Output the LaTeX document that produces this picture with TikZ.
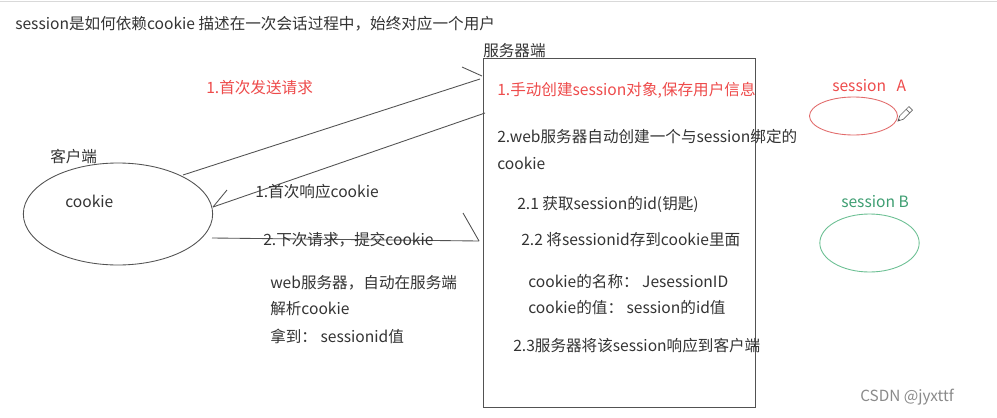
\documentclass[tikz,border=0pt]{standalone}
\usepackage{fontspec}
\setmainfont{Noto Sans CJK SC}
\usetikzlibrary{shapes.geometric}
\definecolor{ink}{HTML}{333333}
\definecolor{lred}{HTML}{EE4B4B}
\definecolor{ered}{HTML}{E26A6A}
\definecolor{lgreen}{HTML}{3E9E72}
\definecolor{egreen}{HTML}{6ABF92}
\definecolor{wm}{HTML}{8A8A8A}
\tikzset{
  txt/.style={anchor=west, inner sep=0pt, text=ink, font=\fontsize{11.7}{14}\selectfont},
  redtxt/.style={txt, text=lred},
  conn/.style={draw=ink!85, line width=0.65pt},
}
\begin{document}
\begin{tikzpicture}[x=0.75pt,y=-0.75pt]
\useasboundingbox (0,0) rectangle (997,418);
\fill[white] (0,0) rectangle (997,418);
\draw[black!15, line width=0.6pt] (0,1.5) -- (997,1.5);

% title
\node[txt] (title) at (15,24) {session是如何依赖cookie 描述在一次会话过程中，始终对应一个用户};

% client
\node[draw=ink!85, line width=0.65pt, ellipse, minimum width=142pt, minimum height=76.5pt, inner sep=0] (client) at (118,214) {};
\node[txt] (clientlbl) at (50,157) {客户端};
\node[txt] (cookie) at (65,201) {cookie};

% server box
\node[draw=ink!85, line width=0.65pt, rectangle, minimum width=204pt, minimum height=261.75pt, inner sep=0, anchor=north west] (server) at (483,58) {};
\node[txt] (serverlbl) at (483,51) {服务器端};

% server texts
\node[redtxt] (s1) at (497,90) {1.手动创建session对象,保存用户信息};
\node[txt] (s2) at (497,137) {2.web服务器自动创建一个与session绑定的};
\node[txt] (s2b) at (497,163) {cookie};
\node[txt] (s21) at (517,204) {2.1 获取session的id(钥匙)};
\node[txt] (s22) at (521,240) {2.2 将sessionid存到cookie里面};
\node[txt] (s23a) at (528,282) {cookie的名称：  JesessionID};
\node[txt] (s23b) at (528,308) {cookie的值：  session的id值};
\node[txt] (s24) at (513,346) {2.3服务器将该session响应到客户端};

% connectors
\coordinate (r1s) at (183,175);
\coordinate (r1e) at (480,79);
\coordinate (r1b) at (462,67);
\coordinate (r1t) at (482,76);
\coordinate (r2s) at (485,113);
\coordinate (r2e) at (213,207);
\coordinate (r2b) at (227,190);
\coordinate (r3s) at (212,238);
\coordinate (r3e) at (479,241);
\coordinate (r3b) at (463,213);
\draw[conn] (r1s) -- (r1e);
\draw[conn] (r1b) -- (r1t);
\draw[conn] (r2s) -- (r2e);
\draw[conn] (r2b) -- (r2e);
\draw[conn] (r3s) -- (r3e);
\draw[conn] (r3b) -- (r3e);

% labels
\node[redtxt] (l1) at (206,88) {1.首次发送请求};
\node[txt] (l2) at (255,192) {1.首次响应cookie};
\node[txt] (l3) at (263,240) {2.下次请求，提交cookie};
\node[txt] (l4) at (270,283) {web服务器，自动在服务端};
\node[txt] (l5) at (270,309) {解析cookie};
\node[txt] (l6) at (270,336) {拿到：  sessionid值};

% session A
\node[txt, text=lred] (sa) at (832,86) {session\hspace{8pt}A};
\node[draw=ered, line width=0.65pt, ellipse, minimum width=66pt, minimum height=28.5pt, inner sep=0] (ea) at (853.5,116) {};
% pencil icon
\begin{scope}[shift={(898,121)}, rotate=45]
  \draw[black!60, line width=0.5pt, fill=white] (0,0) -- (5,-2.5) -- (18,-2.5) -- (18,2.5) -- (5,2.5) -- cycle;
  \draw[black!60, line width=0.5pt] (14,-2.5) -- (14,2.5);
  \fill[black!70] (0,0) -- (2,-1) -- (2,1) -- cycle;
\end{scope}

% session B
\node[txt, text=lgreen] (sb) at (841,202) {session B};
\node[draw=egreen, line width=0.65pt, ellipse, minimum width=74.5pt, minimum height=43.5pt, inner sep=0] (eb) at (869.5,243) {};

% watermark
\node[txt, text=wm, font=\fontsize{11.5}{13}\selectfont] (wmk) at (860,397) {CSDN @jyxttf};
\end{tikzpicture}
\end{document}
